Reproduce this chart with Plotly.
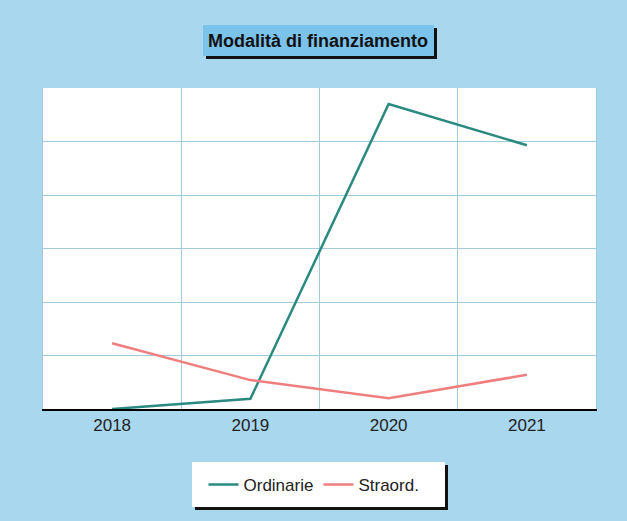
import plotly.graph_objects as go

years = ["2018", "2019", "2020", "2021"]
ordinarie = [0.0, 0.19, 5.70, 4.93]
straord = [1.23, 0.54, 0.20, 0.64]

W, H = 627, 521
L, R, T, B = 43, 31, 88, 112
pw, ph = W - L - R, H - T - B

def px(x):
    return (x - L) / pw

def py(y):
    return (H - B - y) / ph

BG = "#a8d7ee"
GRID = "#9fcbdc"
FONT = "Liberation Sans, Arial, sans-serif"

fig = go.Figure()
fig.add_trace(go.Scatter(x=years, y=ordinarie, mode="lines", name="Ordinarie",
                         line=dict(color="#2a8a80", width=2.5)))
fig.add_trace(go.Scatter(x=years, y=straord, mode="lines", name="Straord.",
                         line=dict(color="#ef7f7f", width=2.5)))

shapes = [
    dict(type="rect", xref="paper", yref="paper", x0=px(206), x1=px(437), y0=py(59), y1=py(28),
         fillcolor="#111111", line=dict(width=0), layer="above"),
    dict(type="rect", xref="paper", yref="paper", x0=px(203), x1=px(434), y0=py(56), y1=py(25),
         fillcolor="#7cc3ec", line=dict(width=0), layer="above"),
    dict(type="rect", xref="paper", yref="paper", x0=px(195), x1=px(448), y0=py(510), y1=py(465),
         fillcolor="#111111", line=dict(width=0), layer="above"),
    dict(type="rect", xref="paper", yref="paper", x0=px(192), x1=px(445), y0=py(507), y1=py(462),
         fillcolor="white", line=dict(width=0), layer="above"),
]

fig.update_layout(
    width=W, height=H,
    margin=dict(l=L, r=R, t=T, b=B),
    paper_bgcolor=BG, plot_bgcolor="white",
    font=dict(family=FONT, size=17, color="#222222"),
    showlegend=True,
    legend=dict(orientation="h", x=px(314), xanchor="center", y=py(485), yanchor="middle",
                bgcolor="rgba(0,0,0,0)", font=dict(size=17, color="#222222"),
                itemwidth=30),
    shapes=shapes,
    annotations=[dict(text="<b>Modalità di finanziamento</b>", xref="paper", yref="paper",
                      x=px(318), y=py(41), xanchor="center", yanchor="middle", showarrow=False,
                      font=dict(size=18, color="#111111", family=FONT))],
    xaxis=dict(type="category", tickson="boundaries", showgrid=True, gridcolor=GRID, gridwidth=1,
               showline=True, linecolor="black", linewidth=2, ticks="outside", ticklen=4,
               tickcolor="rgba(0,0,0,0)",
               tickfont=dict(size=17, color="#222222"), range=[-0.5, 3.5]),
    yaxis=dict(range=[0, 6], dtick=1, showticklabels=False, showgrid=True, gridcolor=GRID,
               gridwidth=1, zeroline=False, showline=True, linecolor=GRID, mirror=True, ticks=""),
)

fig.write_html("out.html", config={"displayModeBar": False},
               post_script="document.body.style.margin='0px';")
